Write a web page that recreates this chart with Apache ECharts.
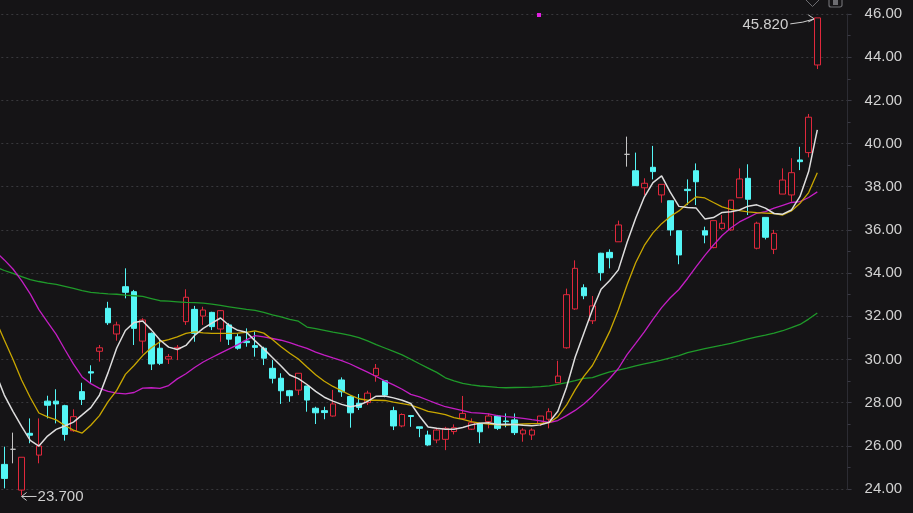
<!DOCTYPE html>
<html><head><meta charset="utf-8">
<script src="https://cdn.jsdelivr.net/npm/echarts@6/dist/echarts.min.js"></script>
<style>html,body{margin:0;padding:0;background:#151416;overflow:hidden}#c{width:913px;height:513px}</style>
</head><body><div id="c"></div>
<script>
// One hidden lead slot (off-screen, MA lines only), 95 trading days, 3 empty slots on the right
const opens = [
25.14,25.84,23.95,26.58,25.57,28.07,28.07,27.86,26.70,28.51,
29.43,30.38,32.37,31.18,33.37,33.14,30.85,31.21,30.52,30.02,
30.49,31.75,32.32,32.01,32.18,31.41,31.60,31.05,30.85,30.64,
30.52,29.59,29.13,28.55,28.58,28.77,27.74,27.63,27.38,29.05,
28.28,27.97,28.00,29.25,29.01,27.63,26.92,27.40,26.88,26.50,
26.27,26.30,26.66,27.27,26.77,27.01,27.12,27.38,27.15,27.20,
26.55,26.50,27.04,27.23,28.92,30.54,32.34,33.32,31.79,34.92,
34.96,35.45,39.50,38.74,37.95,38.90,37.62,37.35,35.96,37.88,
38.74,35.96,35.18,36.07,36.00,37.49,38.39,35.15,36.58,35.10,
37.66,37.62,39.24,39.58,43.64];
const closes = [
24.49,25.84,25.47,26.49,25.99,27.88,27.94,26.53,27.35,28.15,
29.37,30.54,31.70,31.60,33.11,31.44,31.83,29.79,29.82,30.13,
30.56,32.88,31.21,32.29,31.52,32.26,30.94,30.52,30.78,30.56,
30.06,29.13,28.55,28.32,29.36,28.12,27.53,27.54,27.94,28.50,
27.53,27.78,28.44,29.59,28.35,26.92,27.45,27.36,26.81,26.04,
26.73,26.81,26.84,27.50,27.07,26.65,27.38,26.81,27.12,26.61,
26.73,26.73,27.38,27.58,29.23,33.00,34.22,32.95,32.48,34.02,
34.71,36.23,39.50,38.05,38.16,38.70,38.11,36.00,34.84,37.82,
38.23,35.76,36.43,36.31,37.38,38.36,37.42,36.31,35.66,35.84,
38.31,38.65,39.16,41.22,45.82];
const lows = [
24.03,25.19,23.70,26.12,25.19,27.27,27.04,26.24,26.65,27.89,
28.92,29.90,31.60,30.87,32.83,30.67,30.28,29.51,29.74,29.79,
29.97,31.60,30.82,31.60,31.36,30.82,30.67,30.45,30.59,30.13,
29.74,28.89,27.94,28.04,28.35,27.58,27.01,27.23,27.35,28.27,
26.84,27.66,27.89,28.97,28.25,26.73,26.86,26.88,26.40,26.00,
26.12,25.80,26.53,27.20,26.73,26.12,26.81,26.73,26.86,26.50,
26.19,26.27,26.92,26.81,28.92,30.50,32.30,32.79,31.64,33.65,
34.22,35.45,38.93,38.05,37.62,38.34,37.26,35.73,34.41,37.15,
37.15,35.38,35.15,36.00,35.96,37.49,36.69,35.10,35.56,34.88,
37.66,37.31,38.77,39.36,43.45];
const highs = [
25.96,26.61,25.47,27.27,27.27,28.32,28.62,27.90,27.69,28.92,
29.73,30.67,32.67,31.75,34.22,33.22,31.91,31.25,30.90,30.25,
30.67,33.25,32.48,32.44,32.21,32.29,31.68,31.20,31.44,31.29,
30.59,29.97,29.36,28.59,29.36,28.77,27.81,27.81,28.59,29.17,
28.35,28.40,28.55,29.79,29.01,27.81,27.50,27.40,26.88,26.70,
26.81,26.88,26.99,28.31,27.27,27.04,27.50,27.43,27.50,27.50,
26.81,26.81,27.38,27.74,29.94,33.28,34.59,33.48,32.94,34.94,
35.10,36.43,40.32,39.58,38.39,39.89,38.11,37.35,35.96,38.34,
39.08,36.15,36.43,36.69,37.38,38.85,39.04,36.38,36.58,36.00,
38.85,39.32,39.85,41.37,45.82];
// moving averages (first value = hidden lead slot)
const ma5 = [29.37,
28.35,27.60,26.90,26.25,25.99,26.45,26.76,26.92,27.10,27.43,
27.77,28.34,29.39,30.53,31.34,31.71,31.78,31.37,30.90,30.57,
30.46,30.65,31.11,31.44,31.68,31.92,31.57,31.35,31.26,30.86,
30.49,30.09,29.70,29.28,29.11,28.84,28.52,28.25,28.07,27.92,
27.81,27.88,28.06,28.30,28.31,28.22,28.11,27.96,27.38,26.87,
26.81,26.77,26.77,26.85,26.97,27.04,27.07,26.99,27.00,26.99,
26.95,26.93,26.97,27.09,27.60,28.70,30.10,31.20,32.30,33.25,
33.66,34.15,35.42,36.54,37.52,38.19,38.50,37.75,37.09,37.04,
37.01,36.51,36.57,36.81,36.84,36.92,37.10,37.16,37.01,36.76,
36.73,36.92,37.55,38.70,40.63];
const ma10 = [31.83,
30.90,30.01,29.05,28.24,27.52,27.34,27.20,26.94,26.73,26.59,
26.95,27.40,28.05,28.57,29.31,29.72,30.18,30.54,30.82,30.92,
31.05,31.21,31.28,31.23,31.21,31.21,31.21,31.22,31.25,31.32,
31.22,30.92,30.59,30.29,30.02,29.65,29.29,28.99,28.75,28.55,
28.35,28.18,28.11,28.11,28.10,28.02,27.95,27.88,27.75,27.60,
27.53,27.44,27.31,27.22,27.12,27.05,27.00,26.98,26.96,26.99,
27.01,27.03,27.04,27.07,27.35,27.88,28.59,29.22,29.72,30.48,
31.30,32.30,33.45,34.48,35.28,35.86,36.29,36.62,36.88,37.22,
37.53,37.48,37.27,37.07,36.95,36.89,36.84,36.80,36.78,36.76,
36.69,36.88,37.23,37.73,38.65];
const ma20 = [34.98,
34.61,34.19,33.65,33.04,32.31,31.73,31.16,30.46,29.78,29.19,
28.88,28.66,28.52,28.44,28.41,28.47,28.67,28.69,28.66,28.79,
29.10,29.34,29.63,29.88,30.09,30.29,30.49,30.69,30.91,31.10,
31.05,30.97,30.89,30.78,30.64,30.51,30.34,30.20,30.07,29.95,
29.79,29.60,29.41,29.21,29.01,28.82,28.62,28.38,28.27,28.11,
27.95,27.81,27.72,27.63,27.54,27.51,27.48,27.40,27.35,27.32,
27.27,27.21,27.16,27.08,27.17,27.40,27.64,27.94,28.30,28.72,
29.12,29.58,30.22,30.74,31.28,31.86,32.40,32.86,33.24,33.75,
34.30,34.82,35.30,35.74,36.09,36.37,36.57,36.77,36.85,37.01,
37.14,37.27,37.31,37.50,37.76];
const ma60 = [34.28,
34.12,33.99,33.84,33.70,33.61,33.54,33.48,33.39,33.29,33.19,
33.11,33.07,33.04,33.02,32.98,32.95,32.92,32.82,32.72,32.70,
32.67,32.64,32.63,32.61,32.56,32.50,32.44,32.38,32.32,32.27,
32.18,32.07,31.97,31.86,31.77,31.50,31.43,31.35,31.27,31.20,
31.12,31.01,30.86,30.69,30.53,30.37,30.21,30.01,29.80,29.60,
29.40,29.15,29.01,28.89,28.82,28.77,28.74,28.71,28.69,28.70,
28.71,28.72,28.74,28.78,28.85,28.93,29.02,29.12,29.16,29.30,
29.42,29.51,29.60,29.70,29.79,29.88,29.97,30.07,30.18,30.32,
30.41,30.50,30.58,30.66,30.75,30.85,30.95,31.05,31.13,31.22,
31.33,31.47,31.62,31.87,32.15];
const priceTicks = [24,26,28,30,32,34,36,38,40,42,44,46];
const lead = 1, trailing = 3;
const categories = Array.from({length: lead + opens.length + trailing}, (_, i) => 'D' + i);

const candleData = [['-','-','-','-']].concat(opens.map((o, i) => [o, closes[i], lows[i], highs[i]]));

const UP = '#e0283c', DOWN = '#54f6f6', BG = '#151416';
const chart = echarts.init(document.getElementById('c'), null, {renderer: 'canvas'});
const band = (817.3 - 4.3) / 94;
const gridLeft = 4.3 - 1.5 * band;
const gridRight = 913 - (gridLeft + categories.length * band);

function line(name, data, color, width) {
  return {name, type: 'line', data, symbol: 'none', smooth: false, clip: false,
    lineStyle: {color, width}, emphasis: {disabled: true}, z: 3};
}

chart.setOption({
  backgroundColor: BG,
  animation: false,
  grid: {left: gridLeft, right: gridRight, top: 14, bottom: 24, containLabel: false, outerBoundsMode: 'none'},
  xAxis: {type: 'category', data: categories, boundaryGap: true, show: false},
  yAxis: {
    type: 'value', position: 'right', min: priceTicks[0], max: priceTicks[priceTicks.length - 1], interval: 2,
    scale: true,
    axisLine: {show: true, lineStyle: {color: '#2c2c33', width: 1}},
    axisTick: {show: true, length: 4, lineStyle: {color: '#3a3a44'}},
    minorTick: {show: true, splitNumber: 2, length: 3, lineStyle: {color: '#3a3a44'}},
    axisLabel: {color: '#d2d2d2', fontSize: 15, fontFamily: 'Liberation Sans, Arial, sans-serif', margin: 17,
      formatter: v => v.toFixed(2)},
    splitLine: {show: true, lineStyle: {color: '#38383c', type: [2, 3], width: 1}}
  },
  series: [
    {type: 'candlestick', data: candleData, barWidth: 6, clip: false, z: 2,
      itemStyle: {color: BG, color0: DOWN, borderColor: UP, borderColor0: DOWN, borderColorDoji: '#c4c4c4', borderWidth: 1}},
    line('MA60', ma60, '#1f9a2a', 1.3),
    line('MA20', ma20, '#c41ec4', 1.3),
    line('MA10', ma10, '#c9a700', 1.3),
    line('MA5', ma5, '#dedede', 1.5)
  ]
});

// max / min annotations placed through the axes
let hiIdx = 0, loIdx = 0;
highs.forEach((h, i) => { if (h > highs[hiIdx]) hiIdx = i; });
lows.forEach((l, i) => { if (l < lows[loIdx]) loIdx = i; });
const ph = chart.convertToPixel({xAxisIndex: 0, yAxisIndex: 0}, [hiIdx + lead, highs[hiIdx]]);
const pl = chart.convertToPixel({xAxisIndex: 0, yAxisIndex: 0}, [loIdx + lead, lows[loIdx]]);
const txtStyle = {fill: '#cfcfcf', fontSize: 15, fontFamily: 'Liberation Sans, Arial, sans-serif'};
const arrowStroke = {stroke: '#cfcfcf', lineWidth: 1, fill: null};
chart.setOption({graphic: [
  {type: 'text', x: ph[0] - 29, y: ph[1] + 7, style: Object.assign({text: highs[hiIdx].toFixed(3), align: 'right', verticalAlign: 'middle'}, txtStyle)},
  {type: 'bezierCurve', shape: {x1: ph[0] - 27, y1: ph[1] + 6, x2: ph[0] - 3, y2: ph[1] + 1, cpx1: ph[0] - 14, cpy1: ph[1] + 5}, style: arrowStroke},
  {type: 'polyline', shape: {points: [[ph[0] - 9, ph[1] - 3], [ph[0] - 3, ph[1] + 1], [ph[0] - 9, ph[1] + 4]]}, style: arrowStroke},
  {type: 'text', x: pl[0] + 16, y: pl[1] + 1, style: Object.assign({text: lows[loIdx].toFixed(3), align: 'left', verticalAlign: 'middle'}, txtStyle)},
  {type: 'line', shape: {x1: pl[0] + 15, y1: pl[1] + 1, x2: pl[0], y2: pl[1] + 1}, style: arrowStroke},
  {type: 'polyline', shape: {points: [[pl[0] + 5, pl[1] - 3], [pl[0], pl[1] + 1], [pl[0] + 5, pl[1] + 5]]}, style: arrowStroke},
  // decorative toolbar glyphs and marker at the top
  {type: 'polygon', shape: {points: [[806, 0], [812.5, -6], [819, 0], [812.5, 6.5]]}, style: {stroke: '#6c6c70', fill: null, lineWidth: 1}},
  {type: 'rect', shape: {x: 829, y: -6, width: 13, height: 13, r: 2}, style: {stroke: '#6c6c70', fill: null, lineWidth: 1.2}},
  {type: 'rect', shape: {x: 833, y: -4, width: 5, height: 9}, style: {fill: '#6c6c70'}},
  {type: 'rect', shape: {x: 537, y: 13, width: 4, height: 4}, style: {fill: '#e020e0'}}
]});
</script></body></html>
